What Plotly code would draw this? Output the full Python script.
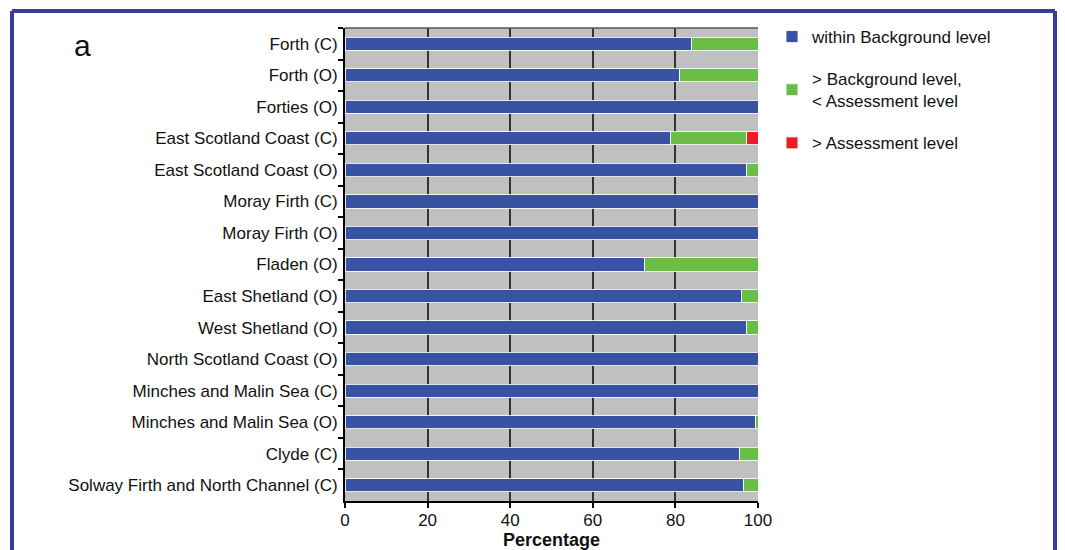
import plotly.graph_objects as go

categories = [
    "Forth (C)", "Forth (O)", "Forties (O)", "East Scotland Coast (C)",
    "East Scotland Coast (O)", "Moray Firth (C)", "Moray Firth (O)", "Fladen (O)",
    "East Shetland (O)", "West Shetland (O)", "North Scotland Coast (O)",
    "Minches and Malin Sea (C)", "Minches and Malin Sea (O)", "Clyde (C)",
    "Solway Firth and North Channel (C)",
]
within_background = [84, 81, 100, 78.8, 97.3, 100, 100, 72.6, 96.1, 97.3, 100, 100, 99.5, 95.5, 96.5]
above_background = [16, 19, 0, 18.5, 2.7, 0, 0, 27.4, 3.9, 2.7, 0, 0, 0.5, 4.8, 3.5]
above_assessment = [0, 0, 0, 2.7, 0, 0, 0, 0, 0, 0, 0, 0, 0, 0, 0]

series_names = ["within Background level", "> Background level,<br>< Assessment level", "> Assessment level"]
series_colors = ["#3953a4", "#6abd45", "#ed1c24"]
x_ticks = [0, 20, 40, 60, 80, 100]

FONT = "Liberation Sans, Arial, sans-serif"

fig = go.Figure()
for name, vals, col in zip(series_names, [within_background, above_background, above_assessment], series_colors):
    fig.add_trace(go.Bar(
        y=categories, x=vals, orientation="h", name=name, legendgroup=name,
        marker=dict(color=col, line=dict(color="rgba(255,255,255,0.85)", width=1)),
        width=0.42,
    ))

# page body has an 8px margin; work in page pixels and convert
OFF = 8
W, H = 1065 - OFF, 550 - OFF
PX0, PX1, PY0, PY1 = 345, 758, 28, 501  # plot area in page pixels
L = PX0 - OFF
R = W - (PX1 - OFF)
T = PY0 - OFF
B = H - (PY1 - OFF)
pw, ph = PX1 - PX0, PY1 - PY0

def px_x(p):
    return (p - PX0) / pw

def px_y(p):
    return (PY1 - p) / ph

border_col = "#383c9a"
shapes = [
    dict(type="line", xref="paper", yref="paper", x0=px_x(12), x1=px_x(1055), y0=px_y(11), y1=px_y(11),
         line=dict(color=border_col, width=4)),
    dict(type="line", xref="paper", yref="paper", x0=px_x(12), x1=px_x(12), y0=px_y(11), y1=px_y(570),
         line=dict(color=border_col, width=4)),
    dict(type="line", xref="paper", yref="paper", x0=px_x(1055), x1=px_x(1055), y0=px_y(11), y1=px_y(570),
         line=dict(color=border_col, width=4)),
    dict(type="line", xref="paper", yref="paper", x0=0, x1=1, y0=1, y1=1,
         line=dict(color="#555555", width=1.5)),
]

fig.update_layout(
    width=W, height=H,
    barmode="stack",
    plot_bgcolor="#c0c0c0",
    paper_bgcolor="white",
    margin=dict(l=L, r=R, t=T, b=B, pad=0, autoexpand=False),
    font=dict(family=FONT, size=17, color="#111111"),
    shapes=shapes,
    xaxis=dict(
        range=[0, 100], tickvals=x_ticks, ticks="outside", ticklen=5, tickwidth=1.5,
        tickcolor="black", showline=True, linecolor="black", linewidth=2,
        showgrid=True, gridcolor="#333333", gridwidth=1.5, zeroline=False,
        title=dict(text="<b>Percentage</b>", font=dict(size=18), standoff=1),
        tickfont=dict(size=17), automargin=False, ticklabelstandoff=-2,
    ),
    yaxis=dict(
        type="category", autorange="reversed", ticks="outside", tickson="boundaries",
        ticklen=5, tickwidth=1.5, tickcolor="black", showline=True, linecolor="black",
        linewidth=2, showgrid=False, tickfont=dict(size=17), ticklabelstandoff=2,
        automargin=False,
    ),
    legend=dict(
        x=px_x(772), xanchor="left", y=px_y(19), yanchor="top",
        traceorder="grouped", tracegroupgap=17, font=dict(size=17),
        bgcolor="rgba(0,0,0,0)", itemclick=False,
    ),
    annotations=[dict(
        text="a", xref="paper", yref="paper", x=px_x(82), y=px_y(46),
        xanchor="center", yanchor="middle", showarrow=False, font=dict(size=30, color="#111111"),
    )],
)

fig.write_html("out.html")
